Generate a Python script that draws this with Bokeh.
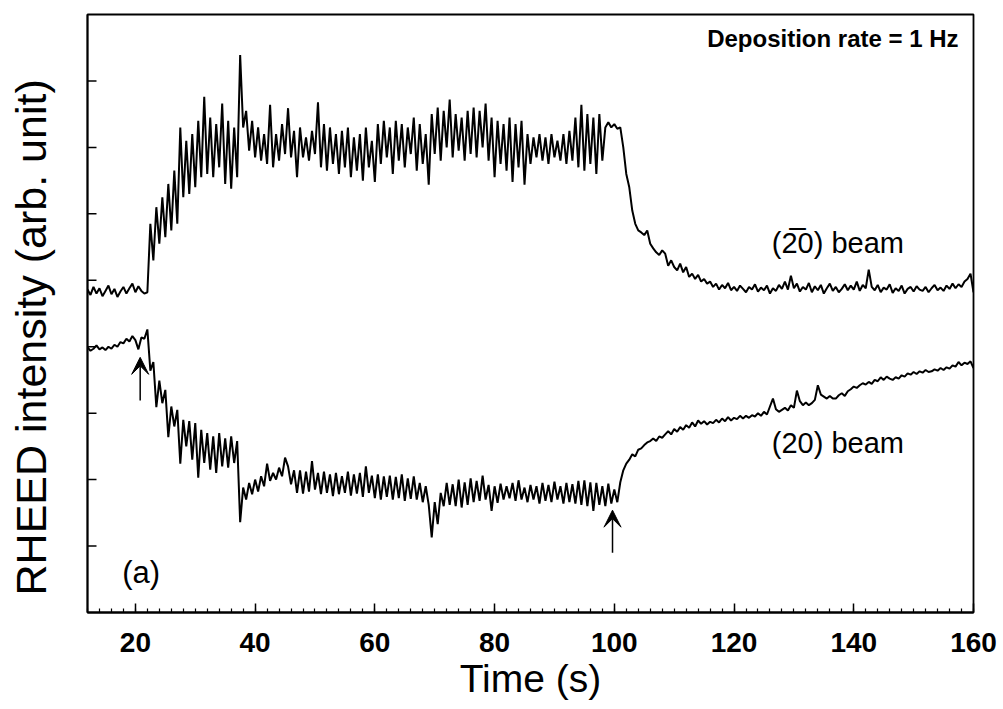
import numpy as np
from bokeh.plotting import figure
from bokeh.models import Label, Arrow, VeeHead, SingleIntervalTicker, FixedTicker
from bokeh.embed import file_html
from bokeh.resources import INLINE

# ---------------- data ----------------
time_start = 12.0
time_step = 0.5   # samples every 0.5 s, 12 s ... 160 s

# (-2 0) beam intensity, one row = 5 s
beam_m20 = [
    4.86, 4.78, 4.90, 4.80, 4.88, 4.76, 4.84, 4.92, 4.79, 4.87,   # 12
    4.75, 4.83, 4.90, 4.80, 4.88, 4.95, 4.82, 4.91, 4.84, 4.80,   # 17
    4.82, 5.85, 5.30, 6.10, 5.55, 6.25, 5.65, 6.45, 5.75, 6.65,   # 22
    5.85, 7.30, 6.25, 7.10, 6.30, 7.20, 6.40, 7.40, 6.55, 7.76,   # 27
    6.60, 7.45, 6.55, 7.35, 6.70, 7.66, 6.45, 7.40, 6.38, 7.30,   # 32
    6.55, 8.39, 7.30, 7.55, 6.95, 7.40, 6.85, 7.30, 6.80, 7.20,   # 37
    6.75, 7.64, 6.70, 7.20, 6.80, 7.35, 6.90, 7.59, 6.85, 7.25,   # 42
    6.55, 7.30, 6.85, 7.15, 6.80, 7.25, 6.90, 7.68, 6.70, 7.35,   # 47
    6.65, 7.30, 6.75, 7.20, 6.60, 7.25, 6.70, 7.30, 6.55, 7.15,   # 52
    6.65, 7.20, 6.50, 7.30, 6.70, 7.10, 6.48, 7.35, 6.75, 7.40,   # 57
    6.85, 7.30, 6.60, 7.40, 6.80, 7.35, 6.70, 7.30, 6.90, 7.45,   # 62
    6.65, 7.35, 6.75, 7.20, 6.44, 7.50, 6.90, 7.60, 6.80, 7.55,   # 67
    7.00, 7.72, 6.85, 7.50, 6.95, 7.45, 6.80, 7.55, 6.90, 7.60,   # 72
    6.85, 7.55, 7.00, 7.66, 6.80, 7.45, 6.55, 7.40, 6.75, 7.35,   # 77
    6.65, 7.45, 6.48, 7.35, 6.70, 7.40, 6.44, 7.20, 6.75, 7.15,   # 82
    6.85, 7.20, 6.80, 7.15, 6.75, 7.20, 6.85, 7.10, 6.80, 7.20,   # 87
    6.75, 7.25, 6.80, 7.45, 6.70, 7.64, 6.65, 7.50, 6.75, 7.45,   # 92
    6.60, 7.50, 6.80, 7.30, 7.38, 7.30, 7.35, 7.28, 7.30, 7.00,   # 97
    6.60, 6.40, 6.05, 5.85, 5.75, 5.72, 5.68, 5.75, 5.55, 5.48,   # 102
    5.42, 5.38, 5.45, 5.40, 5.22, 5.30, 5.20, 5.15, 5.25, 5.12,   # 107
    5.20, 5.05, 5.10, 5.02, 5.08, 4.98, 5.02, 4.95, 4.98, 4.90,   # 112
    4.95, 4.86, 4.93, 4.88, 4.96, 4.85, 4.90, 4.84, 4.92, 4.87,   # 117
    4.82, 4.90, 4.86, 4.94, 4.83, 4.89, 4.85, 4.92, 4.80, 4.88,   # 122
    4.84, 4.93, 4.87, 4.98, 4.86, 5.07, 4.88, 4.95, 4.83, 4.90,   # 127
    4.86, 4.96, 4.82, 4.91, 4.85, 4.93, 4.80, 4.88, 4.95, 4.84,   # 132
    4.90, 4.82, 4.87, 4.94, 4.85, 4.92, 4.86, 4.98, 4.84, 4.93,   # 137
    4.88, 5.16, 4.90, 4.85, 4.93, 4.82, 4.89, 4.86, 4.94, 4.81,   # 142
    4.88, 4.84, 4.92, 4.80, 4.87, 4.90, 4.83, 4.91, 4.86, 4.84,   # 147
    4.90, 4.82, 4.88, 4.93, 4.85, 4.89, 4.84, 4.92, 4.87, 4.95,   # 152
    4.88, 4.94, 4.90, 4.98, 5.02, 5.10, 4.82,                     # 157
]

# (2 0) beam intensity
beam_20 = [
    3.99, 3.94, 3.97, 4.02, 3.96, 3.99, 3.95, 4.00, 3.97, 4.03,   # 12
    4.00, 4.07, 4.05, 4.12, 4.08, 4.16, 4.10, 3.96, 4.14, 4.12,   # 17
    4.26, 3.64, 3.77, 3.09, 3.49, 3.15, 3.35, 2.64, 3.10, 2.80,   # 22
    3.05, 2.24, 2.90, 2.50, 2.88, 2.30, 2.85, 2.03, 2.75, 2.25,   # 27
    2.70, 2.15, 2.65, 2.10, 2.70, 2.20, 2.62, 2.18, 2.65, 2.25,   # 32
    2.58, 1.36, 1.88, 1.70, 1.95, 1.78, 2.00, 1.82, 2.05, 1.90,   # 37
    2.24, 1.98, 2.10, 2.00, 2.18, 2.05, 2.33, 2.20, 1.93, 2.14,   # 42
    1.80, 2.14, 1.79, 2.12, 1.82, 2.28, 1.85, 2.10, 1.78, 2.12,   # 47
    1.80, 2.08, 1.75, 2.10, 1.78, 2.05, 1.80, 2.12, 1.76, 2.08,   # 52
    1.79, 2.10, 1.74, 2.20, 1.80, 2.06, 1.72, 2.08, 1.70, 2.05,   # 57
    1.74, 2.06, 1.70, 2.04, 1.72, 2.08, 1.68, 2.02, 1.71, 2.05,   # 62
    1.70, 1.95, 1.66, 1.90, 1.62, 1.13, 1.66, 1.33, 1.80, 1.60,   # 67
    1.95, 1.62, 1.93, 1.60, 2.00, 1.58, 1.96, 1.62, 2.02, 1.66,   # 72
    1.98, 1.68, 2.06, 1.70, 1.92, 1.53, 1.90, 1.65, 1.94, 1.70,   # 77
    1.90, 1.72, 1.95, 1.68, 1.99, 1.70, 1.88, 1.66, 1.92, 1.70,   # 82
    1.90, 1.64, 1.95, 1.68, 1.92, 1.66, 1.97, 1.70, 1.90, 1.64,   # 87
    1.95, 1.66, 1.93, 1.64, 1.98, 1.62, 1.99, 1.60, 1.96, 1.53,   # 92
    1.95, 1.62, 1.90, 1.60, 1.94, 1.64, 1.85, 1.66, 1.96, 2.14,   # 97
    2.24, 2.30, 2.38, 2.35, 2.45, 2.47, 2.52, 2.56, 2.58, 2.62,   # 102
    2.58, 2.65, 2.63, 2.68, 2.73, 2.68, 2.76, 2.72, 2.79, 2.75,   # 107
    2.82, 2.78, 2.86, 2.80, 2.89, 2.84, 2.88, 2.83, 2.87, 2.85,   # 112
    2.90, 2.86, 2.92, 2.88, 2.94, 2.89, 2.93, 2.91, 2.96, 2.92,   # 117
    2.96, 2.93, 2.97, 2.95, 3.00, 2.96, 3.02, 2.98, 3.10, 3.22,   # 122
    3.06, 3.02, 3.05, 3.08, 3.04, 3.12, 3.08, 3.34, 3.18, 3.12,   # 127
    3.16, 3.12, 3.15, 3.20, 3.42, 3.28, 3.25, 3.22, 3.26, 3.22,   # 132
    3.22, 3.27, 3.30, 3.26, 3.33, 3.36, 3.40, 3.38, 3.42, 3.45,   # 137
    3.43, 3.47, 3.44, 3.50, 3.48, 3.54, 3.50, 3.55, 3.52, 3.50,   # 142
    3.54, 3.52, 3.57, 3.55, 3.60, 3.58, 3.62, 3.59, 3.63, 3.61,   # 147
    3.65, 3.62, 3.63, 3.66, 3.64, 3.68, 3.65, 3.69, 3.67, 3.72,   # 152
    3.70, 3.77, 3.72, 3.76, 3.74, 3.78, 3.68,                     # 157
]

x_lo, x_hi = 12, 160
y_lo, y_hi = 0, 9
y_ticks = [1, 2, 3, 4, 5, 6, 7, 8]   # unlabelled intensity ticks

# arrows marking start / stop of deposition: (time, tail, tip)
arrow_time = [20.8, 99.7]
arrow_tail = [3.19, 0.90]
arrow_tip = [3.84, 1.54]

assert len(beam_m20) == len(beam_20) == 297
time = time_start + time_step * np.arange(len(beam_20))

# ---------------- figure ----------------
W, H = 1003, 709
BL, BR, BT, BB = 87, 30, 14, 97
p = figure(width=W, height=H, x_range=(x_lo, x_hi), y_range=(y_lo, y_hi),
           output_backend="svg", toolbar_location=None,
           min_border_left=BL, min_border_right=BR,
           min_border_top=BT, min_border_bottom=BB)
p.background_fill_color = "white"
p.border_fill_color = "white"
p.xgrid.visible = False
p.ygrid.visible = False
p.outline_line_color = "black"
p.outline_line_width = 1.8
p.outline_line_alpha = 1.0

p.line(time, beam_m20, line_color="black", line_width=2.0)
p.line(time, beam_20, line_color="black", line_width=2.0)

# x axis
xa = p.xaxis[0]
xa.ticker = SingleIntervalTicker(interval=20, num_minor_ticks=10)
xa.major_tick_in = 9
xa.major_tick_out = 0
xa.minor_tick_in = 4
xa.minor_tick_out = 0
xa.axis_line_width = 1.8
xa.major_tick_line_width = 1.5
xa.minor_tick_line_width = 1.2
xa.major_label_text_font = "Liberation Sans"
xa.major_label_text_font_style = "bold"
xa.major_label_text_font_size = "28px"
xa.major_label_text_color = "black"
xa.major_label_standoff = 20
xa.axis_label = "Time (s)"
xa.axis_label_text_font = "Liberation Sans"
xa.axis_label_text_font_style = "normal"
xa.axis_label_text_font_size = "39px"
xa.axis_label_text_color = "black"
xa.axis_label_standoff = 2

# y axis: title only (no numbers); its inward ticks are drawn below.
# Trailing no-break spaces push the visible title a little below centre,
# as it sits in the original.
ya = p.yaxis[0]
ya.ticker = FixedTicker(ticks=[])
ya.major_tick_in = 0
ya.major_tick_out = 0
ya.minor_tick_in = 0
ya.minor_tick_out = 0
ya.major_label_standoff = 0
ya.axis_line_width = 1.8
ya.axis_label = "RHEED intensity (arb. unit)" + "\u00a0" * 4
ya.axis_label_text_font = "Liberation Sans"
ya.axis_label_text_font_style = "normal"
ya.axis_label_text_font_size = "43px"
ya.axis_label_text_color = "black"
ya.axis_label_standoff = 33

frame_w = W - BL - BR
tick_len = 9 * (x_hi - x_lo) / frame_w
p.segment(x0=[x_lo] * len(y_ticks), y0=y_ticks,
          x1=[x_lo + tick_len] * len(y_ticks), y1=y_ticks,
          line_color="black", line_width=1.5)

# annotations
p.add_layout(Label(x=157.5, y=8.64, text="Deposition rate = 1 Hz",
                   text_align="right", text_baseline="alphabetic",
                   text_font="Liberation Sans", text_font_style="bold",
                   text_font_size="24px", text_color="black"))
p.add_layout(Label(x=126.3, y=5.56, text="(2\u03050) beam",
                   text_align="left", text_baseline="alphabetic",
                   text_font="Liberation Sans", text_font_size="29px",
                   text_color="black"))
p.add_layout(Label(x=126.3, y=2.55, text="(20) beam",
                   text_align="left", text_baseline="alphabetic",
                   text_font="Liberation Sans", text_font_size="29px",
                   text_color="black"))
p.add_layout(Label(x=17.8, y=0.60, text="(a)",
                   text_align="left", text_baseline="alphabetic",
                   text_font="Liberation Sans", text_font_size="31px",
                   text_color="black"))

for tx, ty0, ty1 in zip(arrow_time, arrow_tail, arrow_tip):
    p.add_layout(Arrow(end=VeeHead(size=17, fill_color="black", line_color="black"),
                       x_start=tx, y_start=ty0, x_end=tx, y_end=ty1,
                       line_color="black", line_width=1.5))

open("out.html", "w").write(file_html(p, INLINE))
